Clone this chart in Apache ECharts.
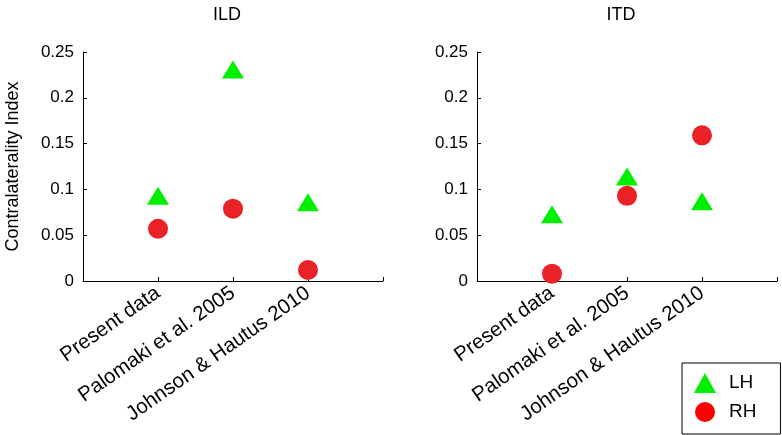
<!DOCTYPE html>
<html>
<head>
<meta charset="utf-8">
<script src="https://cdn.jsdelivr.net/npm/echarts@6/dist/echarts.min.js"></script>
<style>
html,body{margin:0;padding:0;background:#fff;}
#chart{width:782px;height:435px;}
</style>
</head>
<body>
<div id="chart"></div>
<script>
var categories = ['Present data', 'Palomaki et al. 2005', 'Johnson & Hautus 2010'];
var panelTitles = ['ILD', 'ITD'];
var ildLH = [0.093, 0.231, 0.086];
var ildRH = [0.057, 0.079, 0.012];
var itdLH = [0.073, 0.114, 0.087];
var itdRH = [0.008, 0.093, 0.159];
var seriesNames = ['LH', 'RH'];

var FONT = '"Liberation Sans", Arial, Helvetica, sans-serif';
var GREEN = '#00ee00';
var RED = '#ea2228';

function pts(arr) { return arr.map(function (v, i) { return [i + 1, v]; }); }

var grids = [
  {left: 83, top: 52, width: 300, height: 229},
  {left: 477, top: 52, width: 300, height: 229}
];

function xAxis(idx) {
  return {
    type: 'value', gridIndex: idx, min: 0, max: 4, interval: 1,
    axisLine: {lineStyle: {color: '#000', width: 1}},
    axisTick: {inside: true, length: 4, lineStyle: {color: '#000'}},
    splitLine: {show: false},
    axisLabel: {
      rotate: 35, margin: 10, color: '#000', fontSize: 20.5, fontFamily: FONT,
      formatter: function (v) { return (v >= 1 && v <= 3) ? categories[v - 1] : ''; }
    }
  };
}
function yAxis(idx, name) {
  return {
    type: 'value', gridIndex: idx, min: 0, max: 0.25, interval: 0.05,
    name: name, nameLocation: 'middle', nameGap: 61,
    nameTextStyle: {color: '#000', fontSize: 18, fontFamily: FONT},
    axisLine: {show: true, lineStyle: {color: '#000', width: 1}},
    axisTick: {show: true, inside: true, length: 4, lineStyle: {color: '#000'}},
    splitLine: {show: false},
    axisLabel: {color: '#000', fontSize: 17, fontFamily: FONT, margin: 9}
  };
}
function sLH(idx, data) {
  return {name: seriesNames[0], type: 'scatter', xAxisIndex: idx, yAxisIndex: idx,
    symbol: 'triangle', symbolSize: [22, 18], itemStyle: {color: GREEN, opacity: 1},
    data: pts(data), z: 3};
}
function sRH(idx, data) {
  return {name: seriesNames[1], type: 'scatter', xAxisIndex: idx, yAxisIndex: idx,
    symbol: 'circle', symbolSize: 20, itemStyle: {color: RED, opacity: 1},
    data: pts(data), z: 3};
}

var chart = echarts.init(document.getElementById('chart'), null, {renderer: 'canvas'});
chart.setOption({
  animation: false,
  backgroundColor: '#fff',
  title: [
    {text: panelTitles[0], left: 222, top: 1, textAlign: 'center',
     textStyle: {fontSize: 18, fontWeight: 'normal', color: '#000', fontFamily: FONT}},
    {text: panelTitles[1], left: 616, top: 1, textAlign: 'center',
     textStyle: {fontSize: 18, fontWeight: 'normal', color: '#000', fontFamily: FONT}}
  ],
  grid: grids,
  xAxis: [xAxis(0), xAxis(1)],
  yAxis: [yAxis(0, 'Contralaterality Index'), yAxis(1, '')],
  legend: {
    orient: 'vertical', left: 682, top: 363,
    backgroundColor: '#fff',
    borderColor: '#000', borderWidth: 1, borderRadius: 0,
    padding: [10, 24, 12, 12],
    itemWidth: 22, itemHeight: 20, itemGap: 9,
    textStyle: {fontSize: 19, color: '#000', fontFamily: FONT, padding: [0, 0, 0, 8]},
    data: [
      {name: seriesNames[0], icon: 'triangle', itemStyle: {color: GREEN}},
      {name: seriesNames[1], icon: 'circle', itemStyle: {color: '#ff0000'}}
    ]
  },
  series: [sLH(0, ildLH), sRH(0, ildRH), sLH(1, itdLH), sRH(1, itdRH)]
});
</script>
</body>
</html>
